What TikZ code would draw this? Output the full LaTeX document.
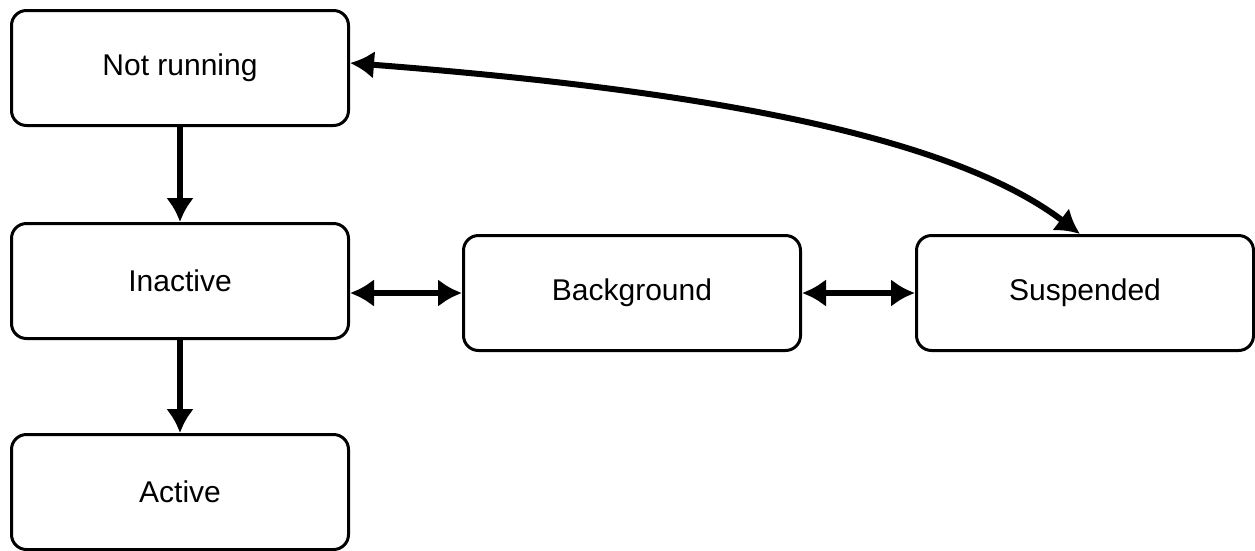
\documentclass[tikz,border=0pt]{standalone}
\usepackage{fontspec}
\setmainfont{Liberation Sans}
\usetikzlibrary{arrows.meta}
\begin{document}
\begin{tikzpicture}[x=1pt,y=-1pt,
    state/.style={draw,line width=3pt,rounded corners=15pt,minimum width=337pt,minimum height=115pt,font=\fontsize{30}{36}\selectfont},
    flow/.style={line width=6pt,-{Latex[length=24pt,width=28pt]}},
    both/.style={line width=6pt,{Latex[length=24pt,width=28pt]}-{Latex[length=24pt,width=28pt]}}]
    \useasboundingbox (0,0) rectangle (1255,550);
    \node[state] (notrunning) at (180,68) {Not running};
    \node[state] (inactive) at (180,281) {Inactive};
    \node[state] (active) at (180,492) {Active};
    \node[state] (background) at (632,293) {Background};
    \node[state] (suspended) at (1085,293) {Suspended};
    \draw[flow] (notrunning) -- (inactive);
    \draw[flow] (inactive) -- (active);
    \draw[both] (inactive.east |- background.west) -- (background.west);
    \draw[both] (background) -- (suspended);
    \draw[both] ([yshift=5pt]notrunning.east) .. controls (700,90) and (950,135) .. ([xshift=-5pt]suspended.north);
\end{tikzpicture}
\end{document}
